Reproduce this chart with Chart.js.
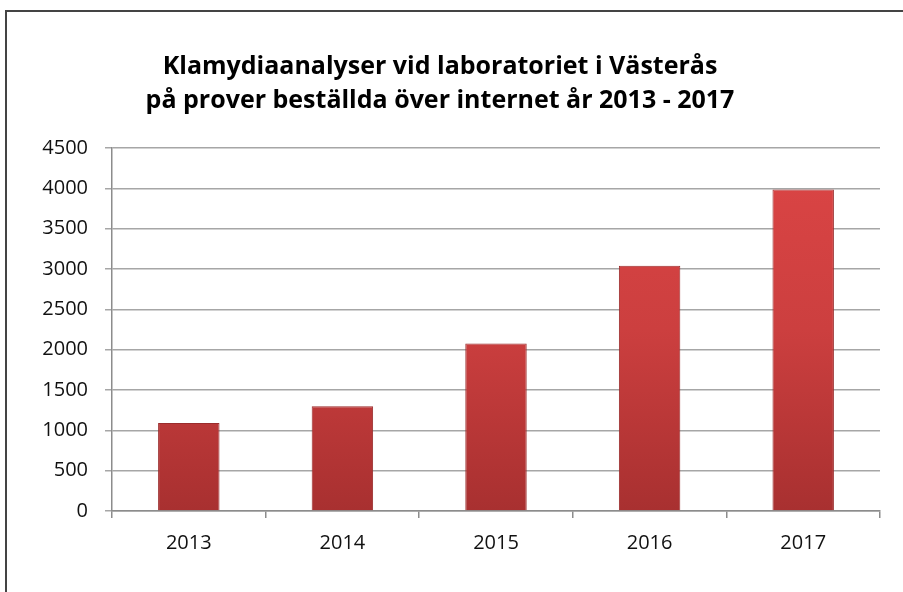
<!DOCTYPE html>
<html>
<head>
<meta charset="utf-8">
<script src="https://cdn.jsdelivr.net/npm/chart.js@4"></script>
<style>
  html, body { margin: 0; padding: 0; background: #fff; overflow: hidden; }
  #wrap { position: relative; width: 903px; height: 592px; }
  #frame { position: absolute; left: 5px; top: 10px; width: 1000px; height: 700px;
           border: 2px solid #444; box-sizing: border-box; }
  canvas { position: absolute; left: 0; top: 0; }
</style>
</head>
<body>
<div id="wrap">
  <div id="frame"></div>
  <canvas id="klamydiaChart" width="903" height="592"></canvas>
</div>
<script>
var years = ["2013", "2014", "2015", "2016", "2017"];
var analyser = [1090, 1300, 2075, 3040, 3985];
var yTicks = [0, 500, 1000, 1500, 2000, 2500, 3000, 3500, 4000, 4500];
var titleLines = [
    "Klamydiaanalyser vid laboratoriet i Västerås",
    "på prover beställda över internet år 2013 - 2017"
];

var canvasElement = document.getElementById("klamydiaChart");

// red bars, lighter at the top, darker at the bottom
function barFill(ctx) {
    var area = ctx.chart.chartArea;
    if (!area) return "#c83a3a";
    var g = ctx.chart.ctx.createLinearGradient(0, area.top, 0, area.bottom);
    g.addColorStop(0, "#dc4545");
    g.addColorStop(0.5, "#cc3f3f");
    g.addColorStop(1, "#a83030");
    return g;
}

var config = {
    type: "bar",
    data: {
        labels: years,
        datasets: [{
            label: "Analyser",
            data: analyser,
            backgroundColor: barFill,
            borderColor: "#9a2c2c",
            borderWidth: 1,
            categoryPercentage: 1,
            barPercentage: 0.4
        }]
    },
    options: {
        responsive: false,
        animation: false,
        layout: { padding: { left: 0, right: 23, top: 0, bottom: 0 } },
        plugins: {
            legend: { display: false },
            tooltip: { enabled: false },
            title: {
                display: true,
                text: titleLines,
                color: "#000",
                font: { family: "Open Sans", size: 25, weight: "bold", lineHeight: 1.36 },
                padding: { top: 50, bottom: 30 }
            }
        },
        scales: {
            x: {
                grid: {
                    display: true,
                    drawOnChartArea: false,
                    drawTicks: true,
                    tickLength: 7,
                    color: "#8c8c8c",
                    lineWidth: 1.5
                },
                border: { color: "#8c8c8c", width: 1.5 },
                ticks: {
                    color: "#111",
                    padding: 13,
                    font: { family: "Open Sans", size: 20 }
                },
                afterFit: function (scale) { scale.height = 81; }
            },
            y: {
                min: 0,
                max: 4500,
                afterBuildTicks: function (scale) {
                    scale.ticks = yTicks.map(function (v) { return { value: v }; });
                },
                grid: {
                    color: "#a6a6a6",
                    lineWidth: 1.5,
                    tickLength: 7
                },
                border: { color: "#8c8c8c", width: 1.5 },
                ticks: {
                    color: "#111",
                    padding: 17,
                    font: { family: "Open Sans", size: 20 },
                    callback: function (v) { return String(v); }
                },
                afterFit: function (scale) { scale.width = 112; }
            }
        }
    }
};

var klamydiaChart = new Chart(canvasElement, config);
</script>
</body>
</html>
